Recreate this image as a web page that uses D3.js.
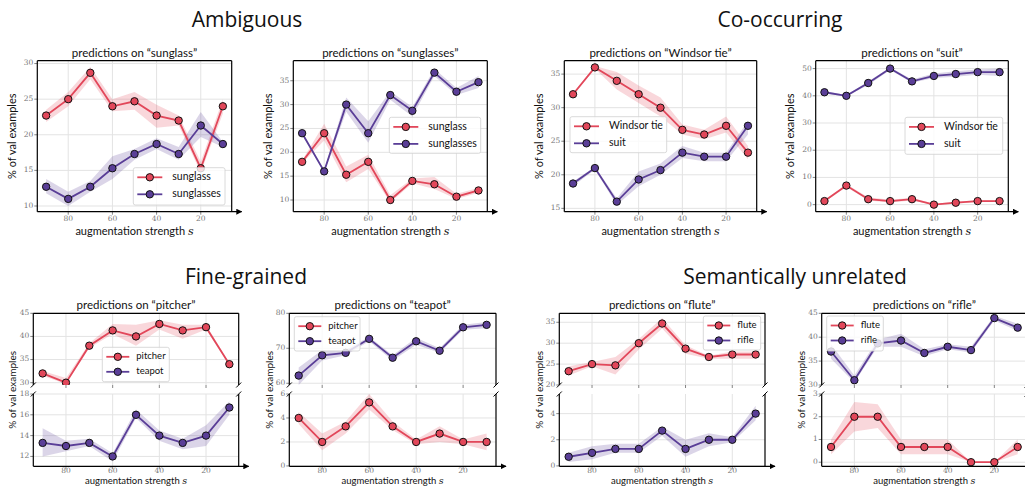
<!DOCTYPE html>
<html>
<head>
<meta charset="utf-8">
<script src="https://cdn.jsdelivr.net/npm/d3@7"></script>
<style>
  body { margin: 0; background: #fff; }
  svg { display: block; }
</style>
</head>
<body>
<div id="chart"></div>
<script>
// ---- data ----
var strength = [90, 80, 70, 60, 50, 40, 30, 20, 10];
var xTickValues = [80, 60, 40, 20];

var sectionTitles = ["Ambiguous", "Co-occurring", "Fine-grained", "Semantically unrelated"];
var panelTitles = ["sunglass", "sunglasses", "Windsor tie", "suit", "pitcher", "teapot", "flute", "rifle"];

// predictions on "sunglass"
var p1Sunglass = [22.7, 25, 28.7, 24, 24.7, 22.7, 22, 15.3, 24];
var p1SunglassLo = [21.8, 24.0, 27.8, 23.3, 23.5, 21.0, 21.3, 14.7, 23.0];
var p1SunglassHi = [23.5, 26.0, 29.5, 25.0, 26.0, 24.2, 22.7, 16.2, 25.0];
var p1Sunglasses = [12.7, 11, 12.7, 15.3, 17.3, 18.7, 17.3, 21.3, 18.7];
var p1SunglassesLo = [11.8, 10.0, 12.0, 13.8, 16.5, 18.0, 16.5, 19.7, 18.3];
var p1SunglassesHi = [13.8, 12.0, 13.5, 17.0, 18.0, 19.5, 18.3, 23.2, 19.0];

// predictions on "sunglasses"
var p2Sunglass = [18, 24, 15.3, 18, 10, 14, 13.3, 10.7, 12];
var p2SunglassLo = [17.7, 22.5, 13.7, 16.5, 9.5, 13.5, 12.3, 10.2, 11.5];
var p2SunglassHi = [18.3, 26.0, 17.0, 19.5, 11.0, 14.5, 14.8, 11.3, 12.5];
var p2Sunglasses = [24, 16, 30, 24, 32, 28.7, 36.7, 32.7, 34.7];
var p2SunglassesLo = [23.7, 15.7, 28.5, 22.0, 31.0, 27.5, 36.0, 32.0, 33.5];
var p2SunglassesHi = [24.3, 16.3, 31.5, 26.5, 32.8, 29.5, 37.5, 33.5, 36.0];

// predictions on "Windsor tie"
var p3Windsor = [32, 36, 34, 32, 30, 26.7, 26, 27.3, 23.3];
var p3WindsorLo = [31.8, 35.8, 32.7, 30.7, 28.7, 26.0, 25.3, 26.3, 22.3];
var p3WindsorHi = [32.2, 36.2, 35.3, 33.3, 31.5, 27.5, 26.7, 28.7, 24.3];
var p3Suit = [18.7, 21, 16, 19.3, 20.7, 23.3, 22.7, 22.7, 27.3];
var p3SuitLo = [18.3, 20.8, 15.5, 18.3, 20.0, 22.5, 22.0, 22.0, 26.0];
var p3SuitHi = [19.0, 21.2, 16.5, 20.5, 21.7, 24.3, 23.3, 23.3, 28.0];

// predictions on "suit"
var p4Windsor = [1.3, 7, 2, 1.3, 2, 0, 0.7, 1.3, 1.3];
var p4WindsorLo = [1.0, 6.5, 1.5, 0.8, 1.5, 0.0, 0.3, 1.0, 1.0];
var p4WindsorHi = [1.7, 7.5, 2.7, 1.8, 2.5, 0.3, 1.0, 1.7, 1.7];
var p4Suit = [41.3, 40, 44.7, 50, 45.3, 47.3, 48, 48.7, 48.7];
var p4SuitLo = [40.8, 39.7, 44.0, 49.5, 44.8, 46.5, 47.0, 47.7, 47.3];
var p4SuitHi = [41.8, 40.3, 45.3, 50.5, 46.0, 48.2, 49.0, 49.7, 50.0];

// predictions on "pitcher"
var p5Pitcher = [32, 30, 38, 41.3, 40, 42.7, 41.3, 42, 34];
var p5PitcherLo = [31.5, 29.7, 37.5, 40.5, 38.0, 41.5, 39.5, 41.5, 33.8];
var p5PitcherHi = [32.5, 31.0, 38.5, 42.7, 42.5, 43.5, 42.5, 42.5, 34.2];
var p5Teapot = [13.3, 13, 13.3, 12, 16, 14, 13.3, 14, 16.7];
var p5TeapotLo = [12.0, 12.5, 13.0, 11.5, 15.7, 13.5, 12.7, 13.0, 16.0];
var p5TeapotHi = [14.7, 13.5, 13.7, 12.3, 16.5, 14.5, 13.7, 15.0, 17.3];

// predictions on "teapot"
var p6Pitcher = [4, 2, 3.3, 5.3, 3.3, 2, 2.7, 2, 2];
var p6PitcherLo = [3.5, 1.3, 2.7, 4.7, 3.0, 1.8, 2.0, 1.8, 1.3];
var p6PitcherHi = [4.5, 2.7, 3.7, 6.0, 3.7, 2.2, 3.3, 2.2, 2.7];
var p6Teapot = [62.2, 68, 68.7, 72.7, 67.3, 72, 69.3, 76, 76.7];
var p6TeapotLo = [59.5, 66.5, 68.0, 72.0, 66.5, 71.0, 68.7, 75.3, 75.7];
var p6TeapotHi = [64.5, 69.5, 69.5, 73.3, 68.0, 73.0, 70.0, 76.7, 77.5];

// predictions on "flute"
var p7Flute = [23.3, 25, 24.7, 30, 34.7, 28.7, 26.7, 27.3, 27.3];
var p7FluteLo = [22.3, 24.5, 22.5, 28.5, 33.5, 27.5, 26.3, 26.3, 26.3];
var p7FluteHi = [24.5, 25.5, 26.7, 31.0, 36.0, 29.5, 27.0, 28.0, 28.0];
var p7Rifle = [0.7, 1, 1.3, 1.3, 2.7, 1.3, 2, 2, 4];
var p7RifleLo = [0.3, 0.5, 1.0, 1.0, 2.3, 0.7, 1.5, 1.8, 3.5];
var p7RifleHi = [1.0, 1.5, 1.7, 1.7, 3.0, 2.0, 2.5, 2.2, 4.6];

// predictions on "rifle"
var p8Flute = [0.67, 2, 2, 0.67, 0.67, 0.67, 0, 0, 0.67];
var p8FluteLo = [0.35, 1.35, 1.5, 0.35, 0.35, 0.35, 0, 0, 0.35];
var p8FluteHi = [1.0, 2.65, 2.55, 1.0, 1.0, 1.0, 0, 0, 1.0];
var p8Rifle = [37, 31, 38.7, 39.3, 36.7, 38, 37.3, 44, 42];
var p8RifleLo = [35.5, 30.5, 38.0, 38.0, 36.0, 37.5, 36.8, 43.5, 41.3];
var p8RifleHi = [38.5, 32.0, 39.5, 40.7, 37.5, 38.5, 38.0, 44.5, 42.8];

// y tick labels
var p1Ticks = [10, 15, 20, 25, 30];
var p2Ticks = [10, 15, 20, 25, 30, 35];
var p3Ticks = [15, 20, 25, 30, 35];
var p4Ticks = [0, 10, 20, 30, 40, 50];
var p5TopTicks = [30, 35, 40, 45], p5BotTicks = [12, 14, 16, 18];
var p6TopTicks = [60, 70, 80], p6BotTicks = [0, 2, 4, 6];
var p7TopTicks = [20, 25, 30, 35], p7BotTicks = [0, 2, 4];
var p8TopTicks = [30, 35, 40, 45], p8BotTicks = [0, 1, 2, 3];

// ---- styles / layout ----
var W = 1025, H = 486;
var RED = "#e2475a", PURPLE = "#5a3e97";
var SANS = "Lato, 'Open Sans', sans-serif";
var SERIF = "'DejaVu Serif', 'Liberation Serif', serif";
var MARKER_R = 3.7;

var mkSeries = function (name, color, mean, lo, hi) {
  return { name: name, color: color, mean: mean, lo: lo, hi: hi };
};

var topRow = { y0: 60.7, y1: 211.7 };
var upper = { y0: 313.3, y1: 385 };
var lower = { y0: 394, y1: 466.3 };

var bigLegend = { font: 10.5, l0: 4, l1: 29, tx: 39, fy: 9.6, dy: 17 };
var smallLegend = { font: 9.5, l0: 4, l1: 27, tx: 34, fy: 9.5, dy: 15 };

// top row: x label 11px at +23; bottom row is squeezed against the page edge
var topLabels = { tickOff: 7, xlOff: 23, xlFont: 11, ylFont: 11 };
var botLabels = { tickOff: 5, xlOff: 18, xlFont: 9.5, ylFont: 10 };

var panels = [
  { x0: 37.3, x1: 231.7, title: panelTitles[0], ylx: -24, lab: topLabels,
    series: [mkSeries("sunglass", RED, p1Sunglass, p1SunglassLo, p1SunglassHi),
             mkSeries("sunglasses", PURPLE, p1Sunglasses, p1SunglassesLo, p1SunglassesHi)],
    parts: [{ y0: topRow.y0, y1: topRow.y1, domain: [9.2, 30.4], ticks: p1Ticks, kind: "full" }],
    legend: { x: 133.3, y: 167.7, w: 91.7, h: 37.3, st: bigLegend } },
  { x0: 293.3, x1: 487.3, title: panelTitles[1], ylx: -24, lab: topLabels,
    series: [mkSeries("sunglass", RED, p2Sunglass, p2SunglassLo, p2SunglassHi),
             mkSeries("sunglasses", PURPLE, p2Sunglasses, p2SunglassesLo, p2SunglassesHi)],
    parts: [{ y0: topRow.y0, y1: topRow.y1, domain: [7.55, 39.2], ticks: p2Ticks, kind: "full" }],
    legend: { x: 389.3, y: 117.3, w: 91.4, h: 36, st: bigLegend } },
  { x0: 564.3, x1: 756.7, title: panelTitles[2], ylx: -24, lab: topLabels,
    series: [mkSeries("Windsor tie", RED, p3Windsor, p3WindsorLo, p3WindsorHi),
             mkSeries("suit", PURPLE, p3Suit, p3SuitLo, p3SuitHi)],
    parts: [{ y0: topRow.y0, y1: topRow.y1, domain: [14.5, 37], ticks: p3Ticks, kind: "full" }],
    legend: { x: 570, y: 116.7, w: 96.7, h: 36, st: bigLegend } },
  { x0: 815.7, x1: 1008.3, title: panelTitles[3], ylx: -24, lab: topLabels,
    series: [mkSeries("Windsor tie", RED, p4Windsor, p4WindsorLo, p4WindsorHi),
             mkSeries("suit", PURPLE, p4Suit, p4SuitLo, p4SuitHi)],
    parts: [{ y0: topRow.y0, y1: topRow.y1, domain: [-2.6, 52.9], ticks: p4Ticks, kind: "full" }],
    legend: { x: 905, y: 117.3, w: 97.7, h: 37, st: bigLegend } },
  { x0: 33.3, x1: 238.7, title: panelTitles[4], ylx: -20, lab: botLabels,
    series: [mkSeries("pitcher", RED, p5Pitcher, p5PitcherLo, p5PitcherHi),
             mkSeries("teapot", PURPLE, p5Teapot, p5TeapotLo, p5TeapotHi)],
    parts: [{ y0: upper.y0, y1: upper.y1, domain: [29.5, 45], ticks: p5TopTicks, kind: "upper" },
            { y0: lower.y0, y1: lower.y1, domain: [11.05, 18], ticks: p5BotTicks, kind: "lower" }],
    legend: { x: 102.3, y: 347.3, w: 67, h: 34.4, st: smallLegend } },
  { x0: 289.3, x1: 496, title: panelTitles[5], ylx: -19, lab: botLabels,
    series: [mkSeries("pitcher", RED, p6Pitcher, p6PitcherLo, p6PitcherHi),
             mkSeries("teapot", PURPLE, p6Teapot, p6TeapotLo, p6TeapotHi)],
    parts: [{ y0: upper.y0, y1: upper.y1, domain: [59.5, 80], ticks: p6TopTicks, kind: "upper" },
            { y0: lower.y0, y1: lower.y1, domain: [-0.03, 6], ticks: p6BotTicks, kind: "lower" }],
    legend: { x: 294.3, y: 316.7, w: 65.7, h: 34.3, st: smallLegend } },
  { x0: 559.3, x1: 765, title: panelTitles[6], ylx: -19, lab: botLabels,
    series: [mkSeries("flute", RED, p7Flute, p7FluteLo, p7FluteHi),
             mkSeries("rifle", PURPLE, p7Rifle, p7RifleLo, p7RifleHi)],
    parts: [{ y0: upper.y0, y1: upper.y1, domain: [20, 37.15], ticks: p7TopTicks, kind: "upper" },
            { y0: lower.y0, y1: lower.y1, domain: [-0.03, 5.5], ticks: p7BotTicks, kind: "lower" }],
    legend: { x: 703.3, y: 316, w: 57.4, h: 34, st: smallLegend } },
  { x0: 821.7, x1: 1027, title: panelTitles[7], ylx: -19, lab: botLabels,
    series: [mkSeries("flute", RED, p8Flute, p8FluteLo, p8FluteHi),
             mkSeries("rifle", PURPLE, p8Rifle, p8RifleLo, p8RifleHi)],
    parts: [{ y0: upper.y0, y1: upper.y1, domain: [30, 45], ticks: p8TopTicks, kind: "upper" },
            { y0: lower.y0, y1: lower.y1, domain: [-0.18, 3], ticks: p8BotTicks, kind: "lower" }],
    legend: { x: 826.7, y: 316, w: 56.6, h: 35, st: smallLegend } }
];

var sectionPos = [[247, 27], [780, 27], [246, 284], [795, 284]];

// ---- drawing ----
var svg = d3.select("#chart").append("svg").attr("width", W).attr("height", H);
var defs = svg.append("defs");
defs.append("marker")
  .attr("id", "arrow").attr("viewBox", "0 0 10 10")
  .attr("refX", 9).attr("refY", 5)
  .attr("markerWidth", 6).attr("markerHeight", 6)
  .attr("markerUnits", "userSpaceOnUse")
  .attr("orient", "auto")
  .append("path").attr("d", "M0,0 L10,5 L0,10 z").attr("fill", "#000");

sectionTitles.forEach(function (t, i) {
  svg.append("text")
    .attr("x", sectionPos[i][0]).attr("y", sectionPos[i][1])
    .attr("text-anchor", "middle")
    .style("font-family", "'Open Sans', 'Noto Sans', sans-serif")
    .style("font-size", "21px").attr("fill", "#111")
    .text(t);
});

var clipId = 0;

var drawPart = function (g, p, part, isLast) {
  var x = d3.scaleLinear().domain([94, 6]).range([p.x0, p.x1]);
  var y = d3.scaleLinear().domain(part.domain).range([part.y1, part.y0]);

  // grid
  g.selectAll(null).data(xTickValues).enter().append("line")
    .attr("x1", function (d) { return x(d); }).attr("x2", function (d) { return x(d); })
    .attr("y1", part.y0).attr("y2", part.y1)
    .attr("stroke", "#e3e3e3").attr("stroke-width", 1);
  g.selectAll(null).data(part.ticks).enter().append("line")
    .attr("x1", p.x0).attr("x2", p.x1)
    .attr("y1", function (d) { return y(d); }).attr("y2", function (d) { return y(d); })
    .attr("stroke", "#e3e3e3").attr("stroke-width", 1);

  // clip
  var id = "clip" + (clipId++);
  defs.append("clipPath").attr("id", id).append("rect")
    .attr("x", p.x0).attr("y", part.y0)
    .attr("width", p.x1 - p.x0).attr("height", part.y1 - part.y0);
  var body = g.append("g").attr("clip-path", "url(#" + id + ")");

  p.series.forEach(function (s) {
    var area = d3.area()
      .x(function (d, i) { return x(strength[i]); })
      .y0(function (d, i) { return y(s.lo[i]); })
      .y1(function (d, i) { return y(s.hi[i]); });
    body.append("path").datum(s.mean).attr("d", area)
      .attr("fill", s.color).attr("fill-opacity", 0.22);
  });
  p.series.forEach(function (s) {
    var line = d3.line()
      .x(function (d, i) { return x(strength[i]); })
      .y(function (d) { return y(d); });
    body.append("path").datum(s.mean).attr("d", line)
      .attr("fill", "none").attr("stroke", s.color).attr("stroke-width", 1.8);
    body.selectAll(null).data(s.mean).enter().append("circle")
      .attr("cx", function (d, i) { return x(strength[i]); })
      .attr("cy", function (d) { return y(d); })
      .attr("r", MARKER_R)
      .attr("fill", s.color).attr("stroke", "#111").attr("stroke-width", 1);
  });

  // y ticks + labels
  part.ticks.forEach(function (t) {
    g.append("line").attr("x1", p.x0 - 3).attr("x2", p.x0)
      .attr("y1", y(t)).attr("y2", y(t)).attr("stroke", "#666").attr("stroke-width", 0.8);
    g.append("text").attr("x", p.x0 - 4).attr("y", y(t))
      .attr("text-anchor", "end").attr("dominant-baseline", "middle")
      .style("font-family", SERIF).style("font-size", "7.5px").attr("fill", "#777")
      .text(t);
  });

  // x ticks
  xTickValues.forEach(function (t) {
    g.append("line").attr("x1", x(t)).attr("x2", x(t))
      .attr("y1", part.y1).attr("y2", part.y1 + 3)
      .attr("stroke", "#666").attr("stroke-width", 0.8);
    if (isLast) {
      g.append("text").attr("x", x(t)).attr("y", part.y1 + p.lab.tickOff)
        .attr("text-anchor", "middle").attr("dominant-baseline", "middle")
        .style("font-family", SERIF).style("font-size", "7.5px").attr("fill", "#777")
        .text(t);
    }
  });

  // spines
  var sp = g.append("g").attr("stroke", "#000").attr("stroke-width", 1.2).attr("fill", "none");
  sp.append("line").attr("x1", p.x0).attr("x2", p.x0).attr("y1", part.y0).attr("y2", part.y1);
  sp.append("line").attr("x1", p.x1).attr("x2", p.x1).attr("y1", part.y0).attr("y2", part.y1);
  if (part.kind !== "lower") {
    sp.append("line").attr("x1", p.x0).attr("x2", p.x1).attr("y1", part.y0).attr("y2", part.y0);
  }
  if (part.kind !== "upper") {
    sp.append("line").attr("x1", p.x0).attr("x2", p.x1 + 10).attr("y1", part.y1).attr("y2", part.y1)
      .attr("marker-end", "url(#arrow)");
  }
  // break marks
  var by = part.kind === "upper" ? part.y1 : (part.kind === "lower" ? part.y0 : null);
  if (by !== null) {
    [p.x0, p.x1].forEach(function (bx) {
      sp.append("line").attr("x1", bx - 2.5).attr("x2", bx + 2.5)
        .attr("y1", by + 2.5).attr("y2", by - 2.5).attr("stroke-width", 1);
    });
  }
};

var drawLegend = function (g, p) {
  var L = p.legend, st = L.st;
  var lg = g.append("g");
  lg.append("rect").attr("x", L.x).attr("y", L.y).attr("width", L.w).attr("height", L.h)
    .attr("rx", 2).attr("fill", "#fff").attr("fill-opacity", 0.8)
    .attr("stroke", "#d0d0d0").attr("stroke-width", 0.8);
  p.series.forEach(function (s, i) {
    var yy = L.y + st.fy + i * st.dy;
    lg.append("line").attr("x1", L.x + st.l0).attr("x2", L.x + st.l1)
      .attr("y1", yy).attr("y2", yy).attr("stroke", s.color).attr("stroke-width", 1.8);
    lg.append("circle").attr("cx", L.x + (st.l0 + st.l1) / 2).attr("cy", yy).attr("r", MARKER_R)
      .attr("fill", s.color).attr("stroke", "#111").attr("stroke-width", 1);
    lg.append("text").attr("x", L.x + st.tx).attr("y", yy)
      .attr("dominant-baseline", "middle")
      .style("font-family", SANS).style("font-size", st.font + "px").attr("fill", "#111")
      .text(s.name);
  });
};

panels.forEach(function (p) {
  var g = svg.append("g");
  p.parts.forEach(function (part, k) {
    drawPart(g, p, part, k === p.parts.length - 1);
  });
  drawLegend(g, p);

  var top = p.parts[0].y0, bottom = p.parts[p.parts.length - 1].y1;
  var cx = (p.x0 + p.x1) / 2;
  g.append("text").attr("x", cx).attr("y", top - 4)
    .attr("text-anchor", "middle")
    .style("font-family", SANS).style("font-size", "11.5px").attr("fill", "#111")
    .text("predictions on \u201c" + p.title + "\u201d");

  var xl = g.append("text").attr("x", cx).attr("y", bottom + p.lab.xlOff)
    .attr("text-anchor", "middle")
    .style("font-family", SANS).style("font-size", p.lab.xlFont + "px").attr("fill", "#111");
  xl.append("tspan").text("augmentation strength ");
  xl.append("tspan").style("font-family", SERIF).style("font-style", "italic").text("s");

  var ly = (top + bottom) / 2;
  g.append("text")
    .attr("transform", "translate(" + (p.x0 + p.ylx) + "," + ly + ") rotate(-90)")
    .attr("text-anchor", "middle").attr("dominant-baseline", "middle")
    .style("font-family", SANS).style("font-size", p.lab.ylFont + "px")
    .attr("fill", "#111")
    .text("% of val examples");
});
</script>
</body>
</html>
